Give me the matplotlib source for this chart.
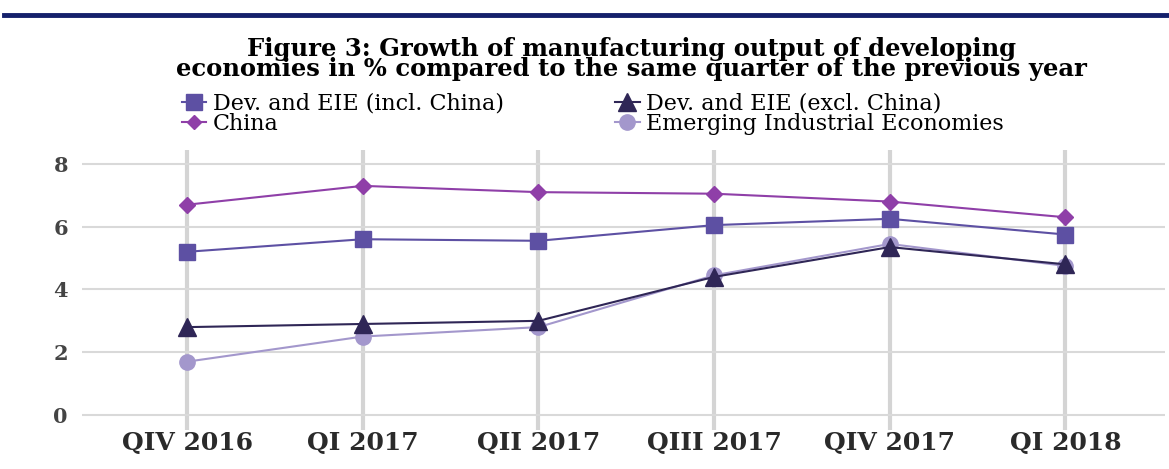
import matplotlib.pyplot as plt
from matplotlib.lines import Line2D

quarters = ["QIV 2016", "QI 2017", "QII 2017", "QIII 2017", "QIV 2017", "QI 2018"]
incl_china = [5.2, 5.6, 5.55, 6.05, 6.25, 5.75]
excl_china = [2.8, 2.9, 3.0, 4.4, 5.35, 4.8]
china = [6.7, 7.3, 7.1, 7.05, 6.8, 6.3]
eie = [1.7, 2.5, 2.8, 4.45, 5.45, 4.75]

serif = "DejaVu Serif"

fig = plt.figure(figsize=(11.69, 4.69), dpi=100)
ax = fig.add_axes([0.07, 0.083, 0.927, 0.597])

# top banner bar
fig.add_artist(Line2D([0.003, 1.0], [0.969, 0.969], color="#14206b", lw=3.5))

x = list(range(len(quarters)))
ax.plot(x, eie, color="#a397cc", marker="o", ms=11, lw=1.5, zorder=3)
ax.plot(x, excl_china, color="#2f2656", marker="^", ms=13, lw=1.5, zorder=4)
ax.plot(x, incl_china, color="#5d50a3", marker="s", ms=12, lw=1.5, zorder=4)
ax.plot(x, china, color="#8f3fa8", marker="D", ms=8, lw=1.5, zorder=4)

ax.set_xlim(-0.6, 5.57)
ax.set_ylim(-0.48, 8.44)
ax.set_yticks([0, 2, 4, 6, 8])
ax.set_xticks(x)
ax.set_xticklabels(quarters, fontfamily=serif, fontsize=18, fontweight="bold",
                   color="#2a2a2a")
ax.set_yticklabels(["0", "2", "4", "6", "8"], fontfamily=serif, fontsize=15,
                   fontweight="bold", color="#444444")
ax.tick_params(length=0, pad=10)
ax.tick_params(axis="x", pad=1)
ax.grid(axis="y", color="#d9d9d9", lw=1.5)
ax.grid(axis="x", color="#d4d4d4", lw=3)
for s in ax.spines.values():
    s.set_visible(False)
ax.set_axisbelow(True)

fig.text(0.54, 0.874, "Figure 3: Growth of manufacturing output of developing\n"
         "economies in % compared to the same quarter of the previous year",
         ha="center", va="center", fontfamily=serif, fontweight="bold",
         fontsize=17.5, linespacing=0.82)

handles = [
    Line2D([], [], color="#5d50a3", marker="s", ms=12, lw=1.5),
    Line2D([], [], color="#8f3fa8", marker="D", ms=7, lw=1.5),
    Line2D([], [], color="#2f2656", marker="^", ms=13, lw=1.5),
    Line2D([], [], color="#a397cc", marker="o", ms=11, lw=1.5),
]
labels = ["Dev. and EIE (incl. China)", "China",
          "Dev. and EIE (excl. China)", "Emerging Industrial Economies"]
fig.legend(handles, labels, ncol=2, loc="upper left", bbox_to_anchor=(0.148, 0.822),
           frameon=False, prop={"family": serif, "size": 16}, handlelength=1.1,
           handletextpad=0.3, columnspacing=5.0, labelspacing=-0.08, borderaxespad=0)

fig.savefig("out.png", dpi=100)
